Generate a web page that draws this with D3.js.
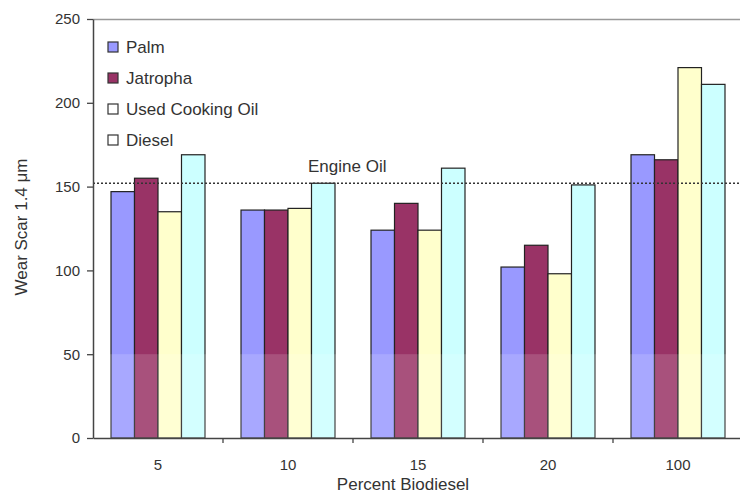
<!DOCTYPE html>
<html>
<head>
<meta charset="utf-8">
<script src="https://cdn.jsdelivr.net/npm/d3@7"></script>
<style>
  body { margin: 0; background: #fff; }
  text { font-family: "Liberation Sans", Arial, sans-serif; fill: #333; }
</style>
</head>
<body>
<svg id="chart" width="740" height="495"></svg>
<script>
var categories = ['5', '10', '15', '20', '100'];
var seriesNames = ['Palm', 'Jatropha', 'Used Cooking Oil', 'Diesel'];
var palm = [147, 136, 124, 102, 169];
var jatropha = [155, 136, 140, 115, 166];
var usedCookingOil = [135, 137, 124, 98, 221];
var diesel = [169, 152, 161, 151, 211];
var yTicks = [0, 50, 100, 150, 200, 250];
var engineOil = 152;

var colors = ['#9999ff', '#993366', '#ffffcc', '#ccffff'];
var legendFill = ['#9999ff', '#993366', '#fff', '#fff'];
var values = [palm, jatropha, usedCookingOil, diesel];

var svg = d3.select('#chart');
var plotLeft = 93, plotRight = 743, plotTop = 19, plotBottom = 438;

var x = d3.scaleBand()
  .domain(categories)
  .range([plotLeft, plotRight])
  .paddingInner(0.277)
  .paddingOuter(0.1385);

var xs = d3.scaleBand()
  .domain(seriesNames)
  .range([0, x.bandwidth()]);

var y = d3.scaleLinear()
  .domain([0, 250])
  .range([plotBottom, plotTop]);

// top frame line
svg.append('line')
  .attr('x1', plotLeft).attr('x2', 740)
  .attr('y1', plotTop + 0.5).attr('y2', plotTop + 0.5)
  .attr('stroke', '#999').attr('stroke-width', 1.5);

// bars
var groups = svg.selectAll('g.series')
  .data(values)
  .enter()
  .append('g')
  .attr('class', 'series')
  .attr('fill', function(d, i) { return colors[i]; });

groups.each(function(vals, si) {
  d3.select(this).selectAll('rect')
    .data(vals)
    .enter()
    .append('rect')
    .attr('x', function(d, i) { return x(categories[i]) + xs(seriesNames[si]); })
    .attr('y', function(d) { return y(d); })
    .attr('width', xs.bandwidth())
    .attr('height', function(d) { return y(0) - y(d); })
    .attr('stroke', '#222')
    .attr('stroke-width', 1.2);
});

// faded lower band (scan artefact)
svg.append('rect')
  .attr('x', plotLeft + 1).attr('y', y(50))
  .attr('width', plotRight - plotLeft).attr('height', y(0) - y(50))
  .attr('fill', '#fff').attr('opacity', 0.15);

// engine oil line
svg.append('line')
  .attr('x1', plotLeft).attr('x2', 740)
  .attr('y1', y(engineOil)).attr('y2', y(engineOil))
  .attr('stroke', '#333')
  .attr('stroke-width', 1.3)
  .attr('stroke-dasharray', '2,2');

svg.append('text')
  .attr('x', 308).attr('y', 172)
  .attr('font-size', '17px')
  .text('Engine Oil');

// axes
var yAxis = d3.axisLeft(y).tickValues(yTicks).tickSize(6).tickSizeOuter(0);
var gy = svg.append('g')
  .attr('transform', 'translate(' + plotLeft + ',0)')
  .call(yAxis);
gy.select('.domain').attr('stroke', '#444').attr('stroke-width', 1.5);
gy.selectAll('.tick line').attr('stroke', '#444').attr('stroke-width', 1.3);
gy.selectAll('.tick text')
  .attr('x', -13)
  .style('font-size', '15px')
  .attr('fill', '#333');

var xAxis = d3.axisBottom(x).tickSize(0).tickSizeOuter(0);
var gx = svg.append('g')
  .attr('transform', 'translate(0,' + plotBottom + ')')
  .call(xAxis);
gx.select('.domain').attr('stroke', '#444').attr('stroke-width', 1.5);
gx.selectAll('.tick text')
  .attr('y', 21)
  .style('font-size', '15px')
  .attr('fill', '#333');

// category divider ticks
svg.selectAll('line.divider')
  .data(categories.slice(0, -1))
  .enter()
  .append('line')
  .attr('class', 'divider')
  .attr('x1', function(d) { return x(d) + x.bandwidth() + x.step() * x.paddingInner() / 2; })
  .attr('x2', function(d) { return x(d) + x.bandwidth() + x.step() * x.paddingInner() / 2; })
  .attr('y1', plotBottom).attr('y2', plotBottom + 5)
  .attr('stroke', '#444').attr('stroke-width', 1.3);

// axis titles
svg.append('text')
  .attr('transform', 'translate(27,227) rotate(-90)')
  .attr('text-anchor', 'middle')
  .attr('font-size', '17px')
  .text('Wear Scar 1.4 \u03bcm');

svg.append('text')
  .attr('x', 403).attr('y', 490)
  .attr('text-anchor', 'middle')
  .attr('font-size', '17px')
  .text('Percent Biodiesel');

// legend
var legend = svg.selectAll('g.legend')
  .data(seriesNames)
  .enter()
  .append('g')
  .attr('class', 'legend')
  .attr('transform', function(d, i) { return 'translate(108,' + (47 + i * 31) + ')'; });

legend.append('rect')
  .attr('x', 0).attr('y', -5)
  .attr('width', 10).attr('height', 10)
  .attr('fill', function(d, i) { return legendFill[i]; })
  .attr('stroke', '#333').attr('stroke-width', 1.2);

legend.append('text')
  .attr('x', 18).attr('y', 6)
  .attr('font-size', '17px')
  .text(function(d) { return d; });
</script>
</body>
</html>
